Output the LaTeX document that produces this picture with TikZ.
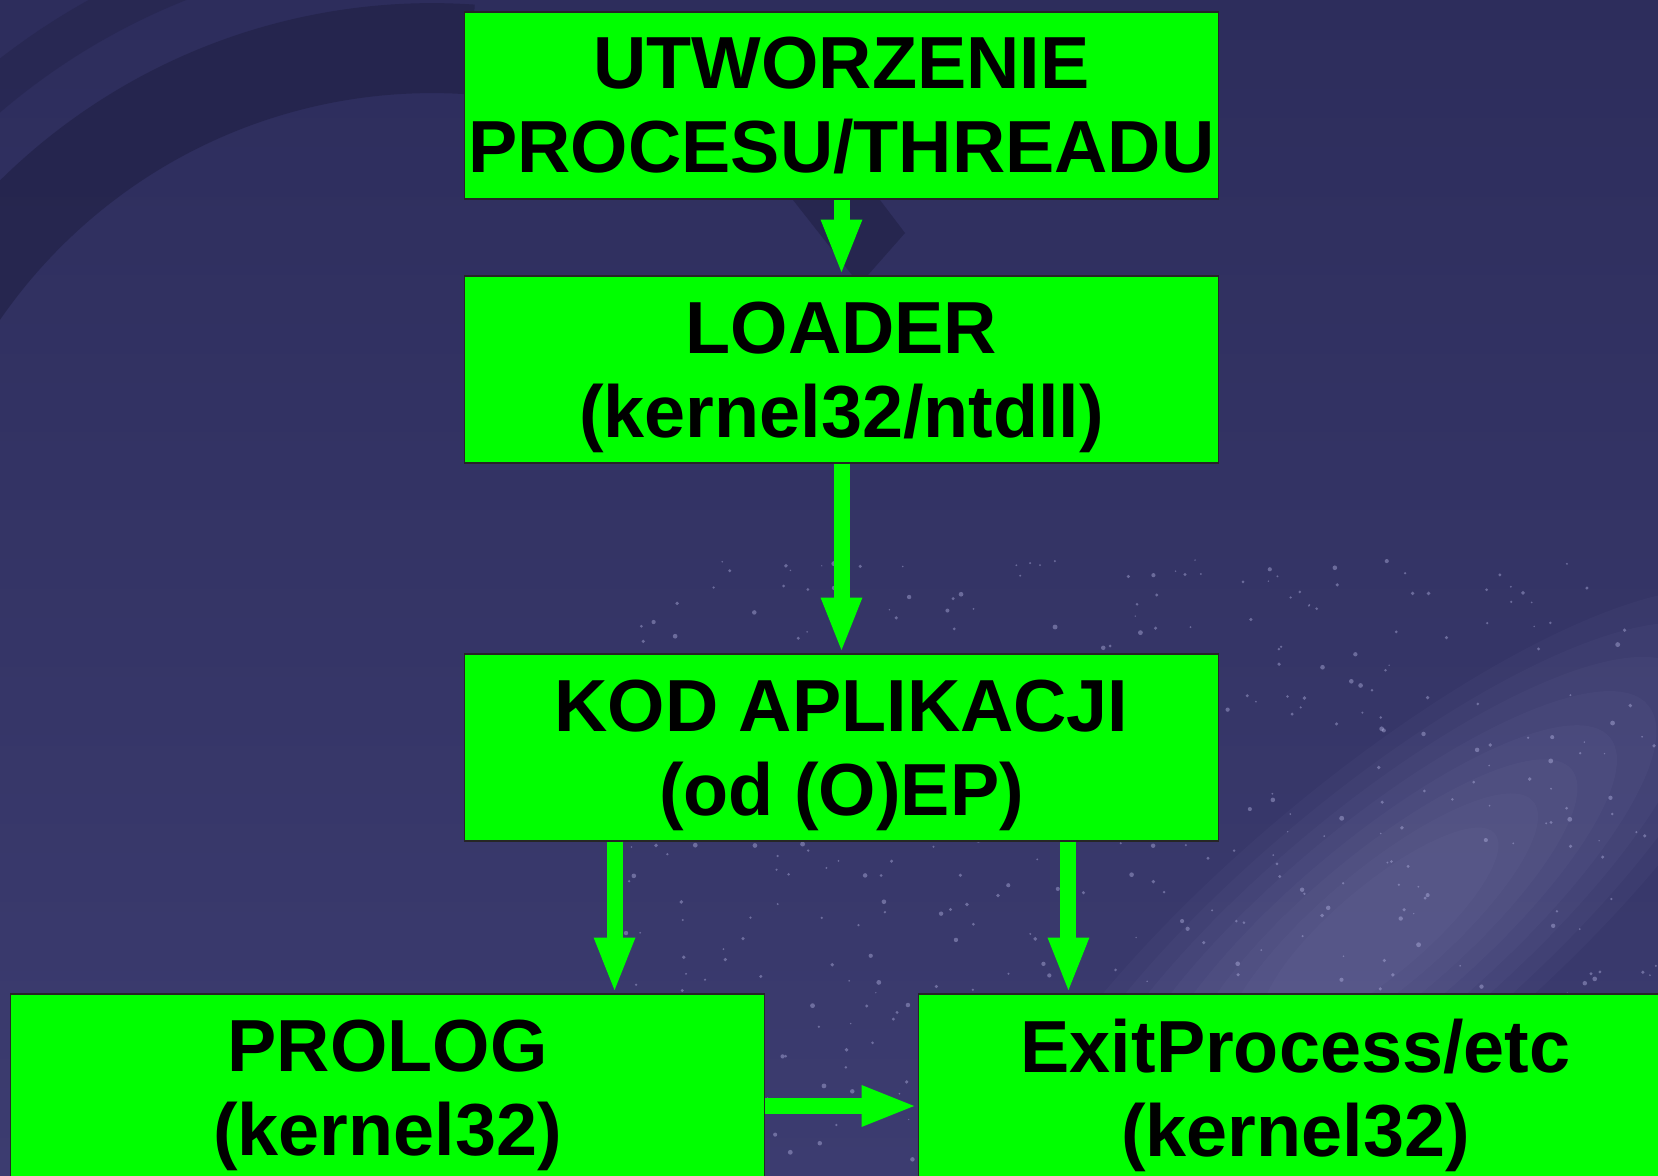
\documentclass[tikz,border=0pt]{standalone}
\usepackage{fontspec}
\setmainfont{Liberation Sans}
\usetikzlibrary{arrows.meta,positioning,calc}
\definecolor{bgdark}{RGB}{45,45,92}
\definecolor{bglight}{RGB}{60,60,112}
\definecolor{bgring}{RGB}{34,34,72}
\definecolor{boxgreen}{RGB}{0,255,0}
\definecolor{starcol}{RGB}{190,190,235}

\begin{document}
\begin{tikzpicture}
[x=0.02cm, y=-0.02cm,
box/.style={draw=black!85, line width=0.6pt, fill=boxgreen,
minimum width=15.1cm, minimum height=3.74cm, inner sep=0pt,
align=center, font=\fontsize{42}{48}\selectfont\bfseries},
flow/.style={draw=boxgreen, line width=0.32cm,
-{Triangle[length=1.12cm 0,width=0.74cm 0]}}]
\useasboundingbox (0,0) rectangle (1658,1176);
\clip (0,0) rectangle (1658,1176);

\shade[top color=bgdark, bottom color=bglight] (0,0) rectangle (1658,1176);
\draw[bgring, line width=1.8cm, opacity=0.7] (432,618) ++(185:11.4cm) arc[start angle=185, end angle=86, radius=11.4cm];
\draw[bgring, line width=0.84cm, opacity=0.45] (432,618) ++(185:13.72cm) arc[start angle=185, end angle=95, radius=13.72cm];
\fill[bgring, opacity=0.7] (793,200) -- (880,200) -- (905,233) -- (868,275) -- (852,275) -- cycle;
\foreach \s in {1,0.9,...,0.25}{
\fill[starcol, opacity=0.035, rotate around={40:(1380,930)}] (1380,930) ellipse ({10*\s cm} and {3*\s cm});
}
\pgfmathsetseed{11}
\foreach \i in {1,...,500}{
\pgfmathsetmacro{\sx}{620+1038*rnd}
\pgfmathsetmacro{\sy}{560+616*rnd}
\pgfmathsetmacro{\sr}{0.4+1.0*rnd}
\fill[starcol, opacity=0.4] (\sx,\sy) circle[radius=\sr pt];
}

\node (utw) at (841.5,105.5) [box] {UTWORZENIE\\PROCESU/THREADU};
\node (loader) at (841.5,369.5) [box] {LOADER\\\smash{(kernel32/ntdll)}};
\node (kod) at (841.5,747.5) [box] {KOD APLIKACJI\\\smash{(od (O)EP)}};
\node (prolog) at (387.5,1087.5) [box] {PROLOG\\\smash{(kernel32)}};
\node (exitp) at (1295.5,1087.5) [box] {ExitProcess/etc\\\smash{(kernel32)}};

\coordinate (k1) at ([xshift=-4.54cm]kod.south);
\coordinate (k2) at ([xshift=4.54cm]kod.south);
\coordinate (p1) at ([yshift=-0.37cm]prolog.east);

\draw[flow] (utw) -- (loader);
\draw[flow] (loader) -- (kod);
\draw[flow] (k1) -- (k1 |- prolog.north);
\draw[flow] (k2) -- (k2 |- exitp.north);
\draw[flow] (p1) -- (p1 -| exitp.west);
\end{tikzpicture}
\end{document}
